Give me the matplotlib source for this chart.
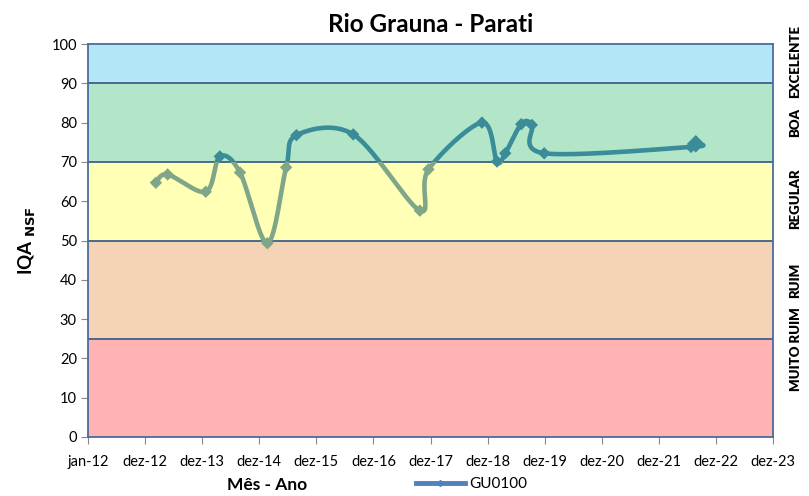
import numpy as np
import pandas as pd
import matplotlib
matplotlib.use("Agg")
import matplotlib.pyplot as plt
from matplotlib.patches import Rectangle
from matplotlib.lines import Line2D

plt.rcParams['font.family'] = ['Lato', 'DejaVu Sans']

# dados
datas = ["2013-03-10", "2013-05-24", "2014-01-23", "2014-04-23", "2014-08-30",
         "2015-02-21", "2015-06-21", "2015-08-26", "2016-08-23", "2017-10-23",
         "2017-12-17", "2018-11-24", "2019-02-28", "2019-04-22", "2019-08-02",
         "2019-10-09", "2019-12-27", "2022-07-23", "2022-08-22"]
iqa = [64.7, 66.8, 62.4, 71.4, 67.3, 49.3, 68.6, 76.8, 77.0, 57.6,
       68.1, 80.0, 70.1, 72.2, 79.6, 79.4, 72.2, 73.8, 74.6]

rotulos_x = ["jan-12", "dez-12", "dez-13", "dez-14", "dez-15", "dez-16", "dez-17",
             "dez-18", "dez-19", "dez-20", "dez-21", "dez-22", "dez-23"]

faixas = [0, 25, 50, 70, 90, 100]
cores_faixas = ["#FFB3B3", "#F5D3B6", "#FFFFB5", "#B3E6C8", "#B3E6F7"]
nomes_faixas = ["MUITO RUIM", "RUIM", "REGULAR", "BOA", "EXCELENTE"]
pos_nomes = [22.4, 39.9, 60.6, 79.9, 95.6]

inicio = pd.Timestamp("2012-01-01")
dias = np.array([(pd.Timestamp(d) - inicio).days for d in datas], dtype=float)
vals = np.array(iqa)
xmax = 12 * 365


def suaviza(x, y, n=40):
    # spline tipo Excel (Catmull-Rom em bezier), em coordenadas de tela
    sx, sy = 686.0 / xmax, 393.0 / 100.0
    p = np.column_stack([x * sx, y * sy])
    P = np.vstack([p[0], p, p[-1]])
    t = np.linspace(0, 1, n)[:, None]
    out = []
    for i in range(len(p) - 1):
        p0, p1, p2, p3 = P[i], P[i + 1], P[i + 2], P[i + 3]
        c1 = p1 + (p2 - p0) / 6.0
        c2 = p2 - (p3 - p1) / 6.0
        b = ((1 - t) ** 3) * p1 + 3 * ((1 - t) ** 2) * t * c1 + 3 * (1 - t) * t ** 2 * c2 + t ** 3 * p2
        out.append(b if i == 0 else b[1:])
    out = np.vstack(out)
    return out[:, 0] / sx, out[:, 1] / sy


fig = plt.figure(figsize=(8.09, 4.96), dpi=100)
ax = fig.add_axes([88 / 809, 1 - 437 / 496, 685 / 809, 393 / 496])

for i in range(len(cores_faixas)):
    ax.axhspan(faixas[i], faixas[i + 1], color=cores_faixas[i], lw=0, zorder=0)
for f in faixas[1:-1]:
    ax.axhline(f, color="#3F5F8C", lw=1.3, zorder=1)

cor_baixo = "#80A68A"
cor_alto = "#3A8C99"
xs, ys = suaviza(dias, vals)
l1, = ax.plot(xs, ys, color=cor_baixo, lw=3.3, zorder=3, solid_capstyle="round")
l2, = ax.plot(xs, ys, color=cor_alto, lw=3.3, zorder=3, solid_capstyle="round")
l1.set_clip_path(Rectangle((0, 0), xmax, 70, transform=ax.transData))
l2.set_clip_path(Rectangle((0, 70), xmax, 30, transform=ax.transData))

cores_pt = [cor_alto if v >= 70 else cor_baixo for v in vals]
tam = [40] * (len(vals) - 1) + [80]
ax.scatter(dias, vals, marker="D", s=tam, c=cores_pt, zorder=4, linewidths=0)

ax.set_xlim(0, xmax)
ax.set_ylim(0, 100)
ax.set_xticks(np.arange(13) * 365)
ax.set_xticklabels(rotulos_x, fontsize=10.5)
ax.set_yticks(np.arange(0, 101, 10))
ax.tick_params(axis="y", labelsize=10.5, direction="out", length=5, color="#888888", pad=3)
ax.tick_params(axis="x", direction="out", length=5, color="#888888", pad=8)
for s in ax.spines.values():
    s.set_color("#4A6C9B")
    s.set_linewidth(1.3)

ax.set_title("Rio Grauna - Parati", fontsize=17.5, fontweight="bold", pad=9)
ax.set_ylabel(r"IQA $_{\mathbf{NSF}}$", fontsize=13.5, fontweight="bold", labelpad=10)
ax.text(0.262, -0.122, "Mês - Ano", transform=ax.transAxes, ha="center", va="center",
        fontsize=12.5, fontweight="bold")

for nome, y in zip(nomes_faixas, pos_nomes):
    ax.text(1.033, y, nome, transform=ax.get_yaxis_transform(), rotation=90,
            ha="center", va="center", fontsize=9.5, fontweight="heavy")

h = Line2D([0], [0], color="#4F81BD", lw=3.5, marker="D", markersize=3)
ax.legend([h], ["GU0100"], loc="center", bbox_to_anchor=(0.56, -0.12), frameon=False,
          fontsize=11, handlelength=3.2, handletextpad=0.3)

fig.savefig("out.png", dpi=100)
